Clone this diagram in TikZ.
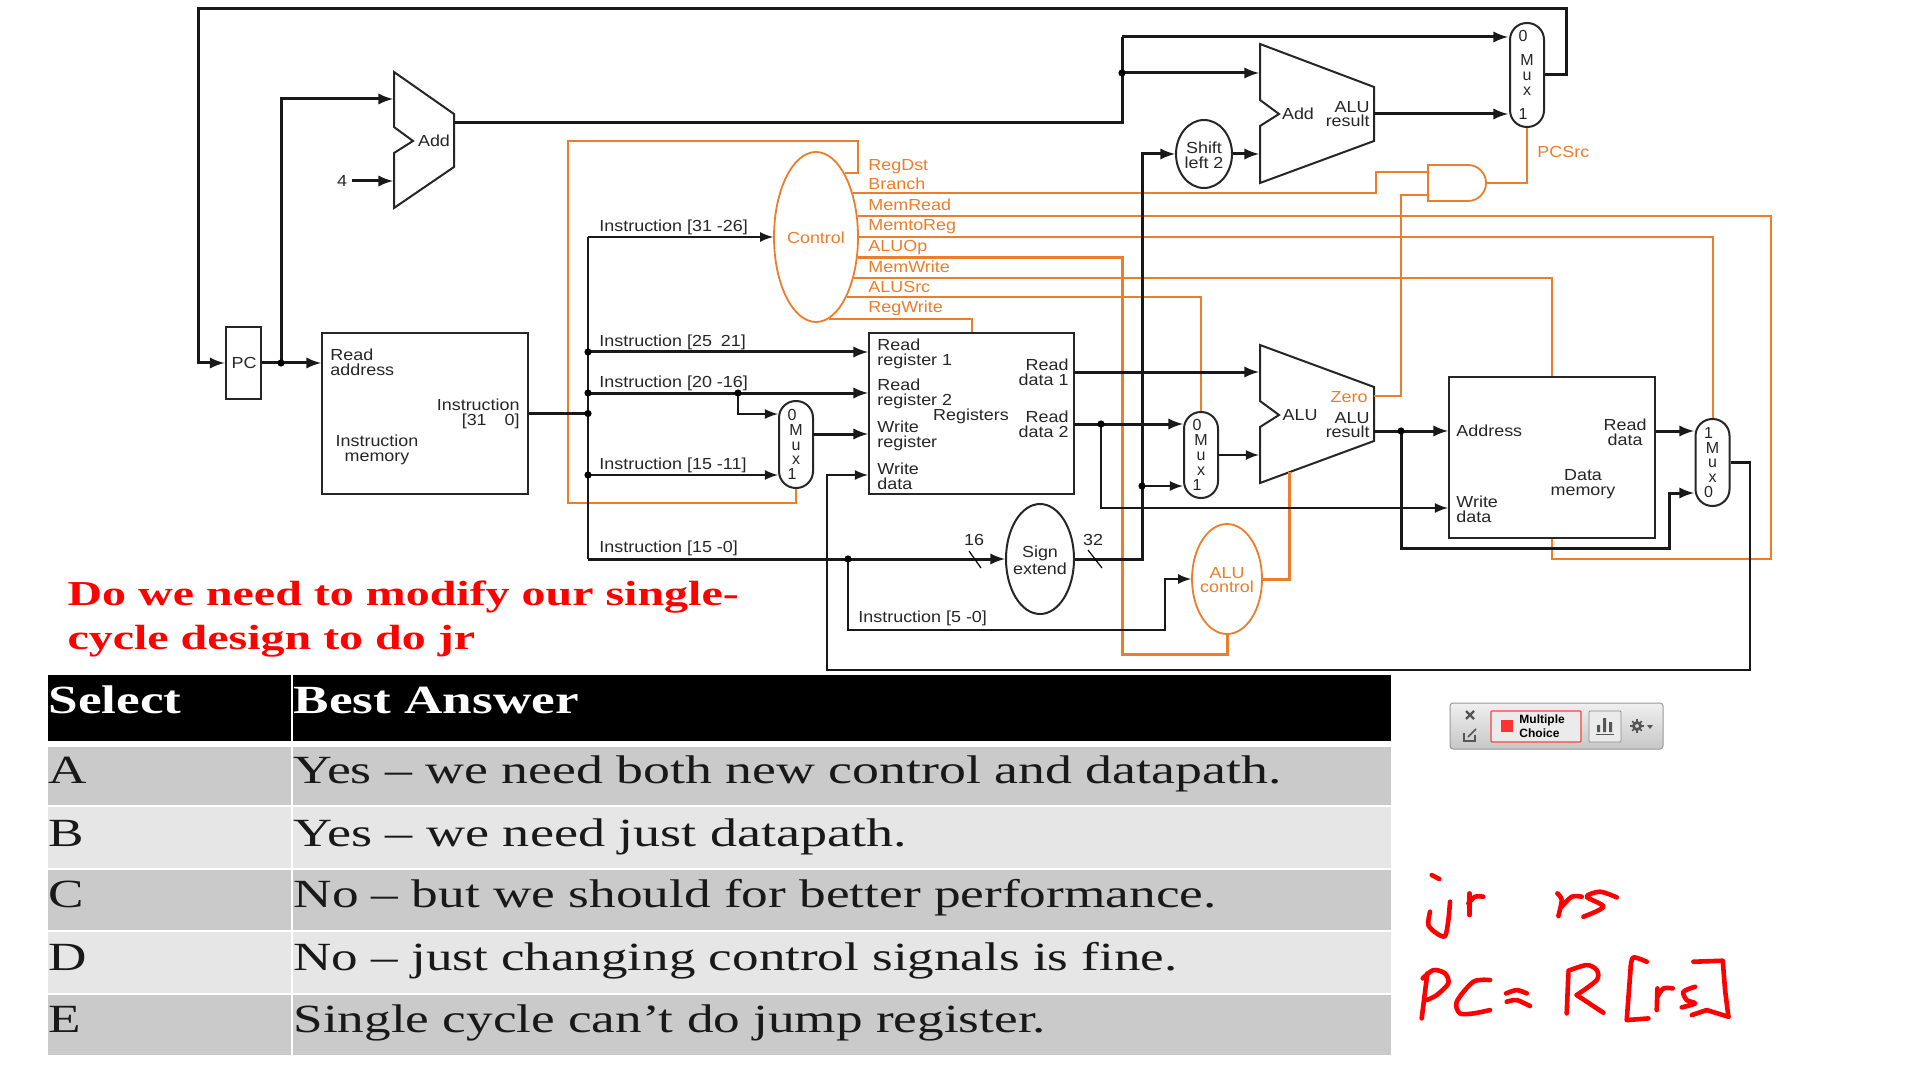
\documentclass[tikz,border=0pt]{standalone}
\usepackage{fontspec}
\setmainfont{Liberation Serif}
\setsansfont{Liberation Sans}
\usetikzlibrary{shapes.geometric}
\definecolor{ctlorange}{HTML}{EE7D2B}
\definecolor{rowdark}{HTML}{CACACA}
\definecolor{rowlight}{HTML}{E6E6E6}
\definecolor{toolgray}{HTML}{555555}
\tikzset{
  >=latex,
  wire/.style={line width=1.5pt,black!90},
  busline/.style={line width=1.25pt,black!90},
  ctl/.style={line width=1pt,ctlorange},
  ctlbig/.style={line width=1.5pt,ctlorange},
  unit/.style={draw=black!85,line width=1pt,inner sep=0pt},
  blob/.style={unit,ellipse},
  oblob/.style={draw=ctlorange,line width=0.9pt,inner sep=0pt,ellipse},
  mux/.style={draw=black!85,line width=1pt,inner sep=0pt,rounded corners=8.4pt,minimum width=17pt,
    align=center,font=\sffamily\fontsize{8}{7.4}\selectfont,text=black!85},
  lab/.style={font=\sffamily\fontsize{8}{7.3}\selectfont,inner sep=0pt,xscale=1.12,transform shape,text=black!85,align=left},
  olab/.style={lab,text=ctlorange},
  serif/.style={font=\rmfamily\fontsize{20}{24}\selectfont,inner sep=0pt,xscale=1.33,transform shape,anchor=base west},
  ask/.style={font=\rmfamily\bfseries\fontsize{17.5}{21}\selectfont,inner sep=0pt,xscale=1.37,transform shape,anchor=base west,text=red},
  hand/.style={red,line width=2.3pt,line cap=round,line join=round},
}
\begin{document}
\begin{tikzpicture}[x=0.5pt,y=-0.5pt]
	\useasboundingbox (0,0) rectangle (1920,1080);
	\fill[white] (0,0) rectangle (1920,1080);
	% units
	\node[unit,minimum width=17.5pt,minimum height=36pt] (PC) at (243,363) {};
	\node[unit,minimum width=103pt,minimum height=80.5pt] (IM) at (425,413.5) {};
	\node[unit,minimum width=102.5pt,minimum height=80.5pt] (Reg) at (971.5,413.5) {};
	\node[unit,minimum width=103pt,minimum height=80.5pt] (DM) at (1552,457.5) {};
	\node[oblob,minimum width=42pt,minimum height=85pt] (Control) at (816,237) {};
	\node[oblob,minimum width=35pt,minimum height=55pt] (ALUctl) at (1227,579) {};
	\node[blob,minimum width=34pt,minimum height=55pt] (Sign) at (1040,559) {};
	\node[blob,minimum width=28pt,minimum height=34pt] (Shift) at (1204,154) {};
	\node[mux,minimum height=52pt] (muxPC) at (1527,75) {0\kern4pt\\[4.6pt]M\\u\\x\\[4.6pt]1\kern4pt};
	\node[mux,minimum height=43.5pt] (regMux) at (796,444.5) {0\kern4pt\\M\\u\\x\\1\kern4pt};
	\node[mux,minimum height=43pt] (aluMux) at (1201,455) {0\kern4pt\\M\\u\\x\\1\kern4pt};
	\node[mux,minimum height=43.5pt] (memMux) at (1712.5,462.5) {1\kern4pt\\M\\u\\x\\0\kern4pt};
	% adders and alu
	\draw[unit] (394,72) -- (454,114) -- (454,167) -- (394,208) -- (394,153) -- (413,141) -- (394,127) -- cycle;
	\draw[unit] (1260,44) -- (1374,87) -- (1374,141) -- (1260,183) -- (1260,126) -- (1279,114) -- (1260,100) -- cycle;
	\draw[unit] (1260,345) -- (1374,387) -- (1374,441) -- (1260,483) -- (1260,427) -- (1279,415) -- (1260,401) -- cycle;
	\draw[draw=ctlorange,line width=0.9pt] (1428,165) -- (1468,165) arc (90:-90:9pt) -- (1428,201) -- cycle;
	% points
	\coordinate (pctop) at (198,9);
	\coordinate (muxtop) at (1566,9);
	\coordinate (pcj) at (281,363);
	\coordinate (addA) at (393,99);
	\coordinate (addB) at (393,181);
	\coordinate (addout) at (454,123);
	\coordinate (brup) at (1122,37);
	\coordinate (brj) at (1122,73);
	\coordinate (brA) at (1259,73);
	\coordinate (brB) at (1259,154);
	\coordinate (mux0in) at (1508,37);
	\coordinate (brout) at (1374,114);
	\coordinate (mux1in) at (1508,114);
	\coordinate (shv) at (1142,154);
	\coordinate (busj) at (588,413.5);
	\coordinate (bustop) at (588,237);
	\coordinate (busbot) at (588,559);
	\coordinate (rs) at (588,352);
	\coordinate (rt) at (588,393);
	\coordinate (rtj) at (738,393);
	\coordinate (rmuxA) at (778,414);
	\coordinate (rd) at (588,475);
	\coordinate (rmuxB) at (778,475);
	\coordinate (rmuxout) at (813,434);
	\coordinate (immj) at (848,559);
	\coordinate (immb) at (1165,630);
	\coordinate (rd1) at (1074,372);
	\coordinate (aluA) at (1259,372);
	\coordinate (rd2) at (1074,424);
	\coordinate (amuxA) at (1183,424);
	\coordinate (rd2j) at (1101,424);
	\coordinate (dmW) at (1448,508);
	\coordinate (immj2) at (1142,486);
	\coordinate (amuxB) at (1183,486);
	\coordinate (aluB) at (1259,455);
	\coordinate (aluout) at (1374,431);
	\coordinate (aluj) at (1401,431);
	\coordinate (alub) at (1669,548);
	\coordinate (mmuxB) at (1694,493);
	\coordinate (mmuxA) at (1694,431);
	\coordinate (wbr) at (1750,670);
	\coordinate (wbl) at (827,670);
	\coordinate (andA) at (1428,172);
	\coordinate (andB) at (1428,195);
	\coordinate (andO) at (1486,183);
	\coordinate (brc) at (1376,172);
	\coordinate (zeroout) at (1374,396);
	\coordinate (zeroup) at (1401,195);
	\coordinate (dstA) at (858,141);
	\coordinate (dstB) at (568,141);
	\coordinate (dstC) at (796,503);
	\coordinate (mrd) at (1771,559);
	\coordinate (opb) at (1122,654);
	\coordinate (opup) at (1289,472);
	% control lines
	\draw[ctl] (Control.66) -| (dstA) -- (dstB) |- (dstC) -- (regMux.south);
	\draw[ctl] (Control.50) -| (brc) -- (andA);
	\draw[ctl] (zeroout) -| (zeroup) -- (andB);
	\draw[ctl] (Control.27) -| (mrd) -| (DM.south);
	\draw[ctl] (Control.east) -| (memMux.north);
	\draw[ctlbig] (Control.-26) -| (opb) -| (ALUctl.south);
	\draw[ctl] (Control.-47) -| (DM.north);
	\draw[ctl] (Control.-63) -| (aluMux.north);
	\draw[ctl] (Control.-81) -| (Reg.north);
	\draw[ctl] (andO) -| (muxPC.south);
	\draw[ctlbig] (ALUctl.east) -| (opup);
	% data lines
	\draw[wire,->] (muxPC.east) -| (muxtop) -- (pctop) |- (PC.west);
	\draw[wire,->] (PC.east) -- (IM.west |- PC.east);
	\draw[wire,->] (pcj) |- (addA);
	\draw[wire] (addout) -| (brup);
	\draw[wire,->] (brup) -- (mux0in);
	\draw[wire,->] (brj) -- (brA);
	\draw[wire,->] (brout) -- (mux1in);
	\draw[wire,->] (Shift.east) -- (brB);
	\draw[wire,->] (Sign.east) -| (shv) -- (Shift.west);
	\draw[wire] (IM.east) -- (busj);
	\draw[busline] (busbot) -- (bustop);
	\draw[busline,->] (bustop) -- (Control.west);
	\draw[wire,->] (rs) -- (Reg.west |- rs);
	\draw[wire,->] (rt) -- (Reg.west |- rt);
	\draw[busline,->] (rtj) |- (rmuxA);
	\draw[busline,->] (rd) -- (rmuxB);
	\draw[wire,->] (busbot) -- (Sign.west);
	\draw[busline,->] (immj) |- (immb) |- (ALUctl.west);
	\draw[wire,->] (rmuxout) -- (Reg.west |- rmuxout);
	\draw[wire,->] (rd1) -- (aluA);
	\draw[wire,->] (rd2) -- (amuxA);
	\draw[busline,->] (rd2j) |- (dmW);
	\draw[busline,->] (immj2) -- (amuxB);
	\draw[busline,->] (aluMux.east) -- (aluB);
	\draw[wire,->] (aluout) -- (DM.west |- aluout);
	\draw[wire,->] (aluj) |- (alub) |- (mmuxB);
	\draw[wire,->] (DM.east |- aluout) -- (mmuxA);
	\draw[busline,->] (memMux.east) -| (wbr) -- (wbl) |- (Reg.west |- rd);
	\foreach \j in {pcj,brj,busj,rs,rt,rtj,rd,immj,rd2j,immj2,aluj}
		\fill[black] (\j) circle (1.8pt);
	% bus width marks
	\coordinate (cutA) at (969,551);
	\coordinate (cutB) at (981,568);
	\coordinate (cutC) at (1088,550);
	\coordinate (cutD) at (1102,568);
	\draw[line width=0.6pt] (cutA) -- (cutB);
	\draw[line width=0.6pt] (cutC) -- (cutD);
	% labels
	\node[lab,inner sep=2pt] (four) at (342,181) {4};
	\draw[wire,->] (four.east) -- (addB);
	\node[lab] (tPC) at (244,363) {PC};
	\node[lab] (tAdd) at (434,141) {Add};
	\node[lab] (tAddB) at (1298,114) {Add};
	\node[lab,anchor=east,align=right] (tAddRes) at (1370,114) {ALU\\result};
	\node[lab,align=center] (tShift) at (1204,155) {Shift\\left 2};
	\node[lab,align=center] (tSign) at (1040,560) {Sign\\extend};
	\node[olab,align=center] (tALUctl) at (1227,580) {ALU\\control};
	\node[olab] (tControl) at (816,238) {Control};
	\node[olab,anchor=west] (tPCSrc) at (1537,152) {PCSrc};
	\foreach \n/\y in {RegDst/167,Branch/184,MemRead/205,MemtoReg/227,ALUOp/248,MemWrite/267,ALUSrc/287,RegWrite/308}
		\node[olab,anchor=west] (t\n) at (868,\y) {\n};
	\node[lab,anchor=west] (tReadAddr) at (330,362) {Read\\address};
	\node[lab,anchor=east,align=right] (tInstr) at (520,414) {Instruction\\{}[31\quad0]};
	\node[lab,align=center] (tIM) at (377,450) {Instruction\\memory};
	\node[lab,anchor=west] (t3126) at (599,227) {Instruction [31 -26]};
	\node[lab,anchor=west] (t2521) at (599,342) {Instruction [25\enspace21]};
	\node[lab,anchor=west] (t2016) at (599,383) {Instruction [20 -16]};
	\node[lab,anchor=west] (t1511) at (599,465) {Instruction [15 -11]};
	\node[lab,anchor=west] (t150) at (599,548) {Instruction [15 -0]};
	\node[lab,anchor=west] (t50) at (858,618) {Instruction [5 -0]};
	\node[lab,anchor=west] (tRR1) at (877,354) {Read\\register 1};
	\node[lab,anchor=west] (tRR2) at (877,394) {Read\\register 2};
	\node[lab,anchor=west] (tWR) at (877,436) {Write\\register};
	\node[lab,anchor=west] (tWD) at (877,476) {Write\\data};
	\node[lab] (tReg) at (971,416) {Registers};
	\node[lab,anchor=east,align=right] (tRD1) at (1069,372) {Read\\data 1};
	\node[lab,anchor=east,align=right] (tRD2) at (1069,424) {Read\\data 2};
	\node[lab] (t16) at (974,540) {16};
	\node[lab] (t32) at (1093,540) {32};
	\node[lab] (tALU) at (1300,415) {ALU};
	\node[olab,anchor=east] (tZero) at (1368,397) {Zero};
	\node[lab,anchor=east,align=right] (tALURes) at (1370,425) {ALU\\result};
	\node[lab,anchor=west] (tAddress) at (1456,431) {Address};
	\node[lab,anchor=west] (tWData) at (1456,509) {Write\\data};
	\node[lab,anchor=east,align=center] (tMRD) at (1647,432) {Read\\data};
	\node[lab,align=center] (tDMem) at (1583,484) {Data\\memory};
	% question
	\node[ask] (ask1) at (67,605) {Do we need to modify our single-};
	\node[ask] (ask2) at (67,649) {cycle design to do jr};
	% table
	\fill[black] (48,675) rectangle (291,741);
	\fill[black] (293,675) rectangle (1391,741);
	\node[serif,text=white,font=\rmfamily\bfseries\fontsize{20}{24}\selectfont] (hSel) at (48,713) {Select};
	\node[serif,text=white,font=\rmfamily\bfseries\fontsize{20}{24}\selectfont] (hAns) at (293,713) {Best Answer};
	\foreach \k/\t/\b/\c/\y/\s/\a in {A/747/805/rowdark/783/1.345/Yes – we need both new control and datapath.,
		B/807/868/rowlight/846/1.353/Yes – we need just datapath.,
		C/870/930/rowdark/907/1.332/No – but we should for better performance.,
		D/932/993/rowlight/970/1.326/No – just changing control signals is fine.,
		E/995/1055/rowdark/1032/1.33/Single cycle can’t do jump register.} {
		\fill[\c] (48,\t) rectangle (291,\b);
		\fill[\c] (293,\t) rectangle (1391,\b);
		\node[serif,text=black!90] (k\k) at (48,\y) {\k};
		\node[serif,text=black!90,xscale=\s/1.33] (a\k) at (293,\y) {\a};
	}
	% toolbar
	\node[draw=black!40,line width=0.5pt,rounded corners=1.5pt,top color=black!6,bottom color=black!22,
		minimum width=106.5pt,minimum height=23pt,inner sep=0pt] (bar) at (1556.5,726) {};
	\node[draw=red!75,line width=0.6pt,rounded corners=0.5pt,fill=black!8,minimum width=45pt,minimum height=15.5pt,inner sep=0pt] (mcbtn) at (1536,726.5) {};
	\node[draw=black!45,line width=0.4pt,rounded corners=0.5pt,fill=black!8,minimum width=16pt,minimum height=15.5pt,inner sep=0pt] (chartbtn) at (1605,726.5) {};
	\node[fill=red!80,minimum size=6pt,inner sep=0pt] (mcsq) at (1507,726) {};
	\node[font=\sffamily\bfseries\fontsize{6}{7.2}\selectfont,anchor=west,align=left,inner sep=0pt] (mctxt) at (1519,726) {Multiple\\Choice};
	\draw[toolgray,line width=1.1pt] (1466,711) -- (1474,719) (1474,711) -- (1466,719);
	\draw[toolgray,line width=0.6pt] (1464,733) -- (1464,741) -- (1475,741) -- (1475,735);
	\draw[toolgray,line width=0.8pt] (1468,737) -- (1476,729);
	\fill[toolgray] (1597,725) rectangle (1600,732) (1603,718) rectangle (1606,732) (1609,722) rectangle (1612,732);
	\draw[toolgray,line width=0.5pt] (1596,734) -- (1614,734);
	\coordinate (gear) at (1637,726);
	\fill[toolgray,even odd rule] (gear) circle (2.5pt) (gear) circle (1pt);
	\foreach \a in {0,45,...,315}
		\draw[toolgray,line width=0.8pt] (gear) ++(\a:2pt) -- ++(\a:1.4pt);
	\fill[toolgray] (1647,725) -- (1653,725) -- (1650,729) -- cycle;
	% handwriting
	\begin{scope}[shift={(1400,680)},x=0.1667pt,y=-0.1667pt]
		\draw[hand] (95,585) -- (118,597);
		\draw[hand] plot[smooth] coordinates {(90,695) (85,735) (110,760) (135,768) (145,720) (150,665)};
		\draw[hand] (208,640) -- (208,705);
		\draw[hand] plot[smooth] coordinates {(205,670) (225,650) (250,650)};
		\draw[hand] plot[smooth] coordinates {(472,640) (485,660) (475,708)};
		\draw[hand] plot[smooth] coordinates {(485,680) (515,650) (545,650)};
		\draw[hand] plot[smooth] coordinates {(650,652) (600,635) (560,650) (610,680) (550,710)};
		\draw[hand] (82,880) -- (65,1015);
		\draw[hand] plot[smooth] coordinates {(68,895) (100,870) (135,880) (145,910) (110,945) (80,960)};
		\draw[hand] plot[smooth] coordinates {(270,900) (220,905) (170,965) (180,1000) (220,1000) (270,990)};
		\draw[hand] plot[smooth] coordinates {(318,940) (350,930) (380,940)};
		\draw[hand] plot[smooth] coordinates {(320,965) (350,960) (390,978)};
		\draw[hand] (505,880) -- (500,1000);
		\draw[hand] plot[smooth] coordinates {(505,872) (560,855) (590,870) (590,900) (530,945)};
		\draw[hand] (530,945) -- (610,998);
		\draw[hand] plot[smooth] coordinates {(740,845) (700,832) (692,860)};
		\draw[hand] (692,860) -- (680,1020) -- (745,1015);
		\draw[hand] (772,925) -- (770,990);
		\draw[hand] plot[smooth] coordinates {(772,950) (790,925) (818,925)};
		\draw[hand] plot[smooth] coordinates {(885,920) (850,935) (860,960) (885,970) (845,982)};
		\draw[hand] (880,845) -- (968,842) -- (975,930) -- (985,1010);
		\draw[hand] (985,1010) -- (920,990) -- (875,1005);
	\end{scope}
\end{tikzpicture}
\end{document}
